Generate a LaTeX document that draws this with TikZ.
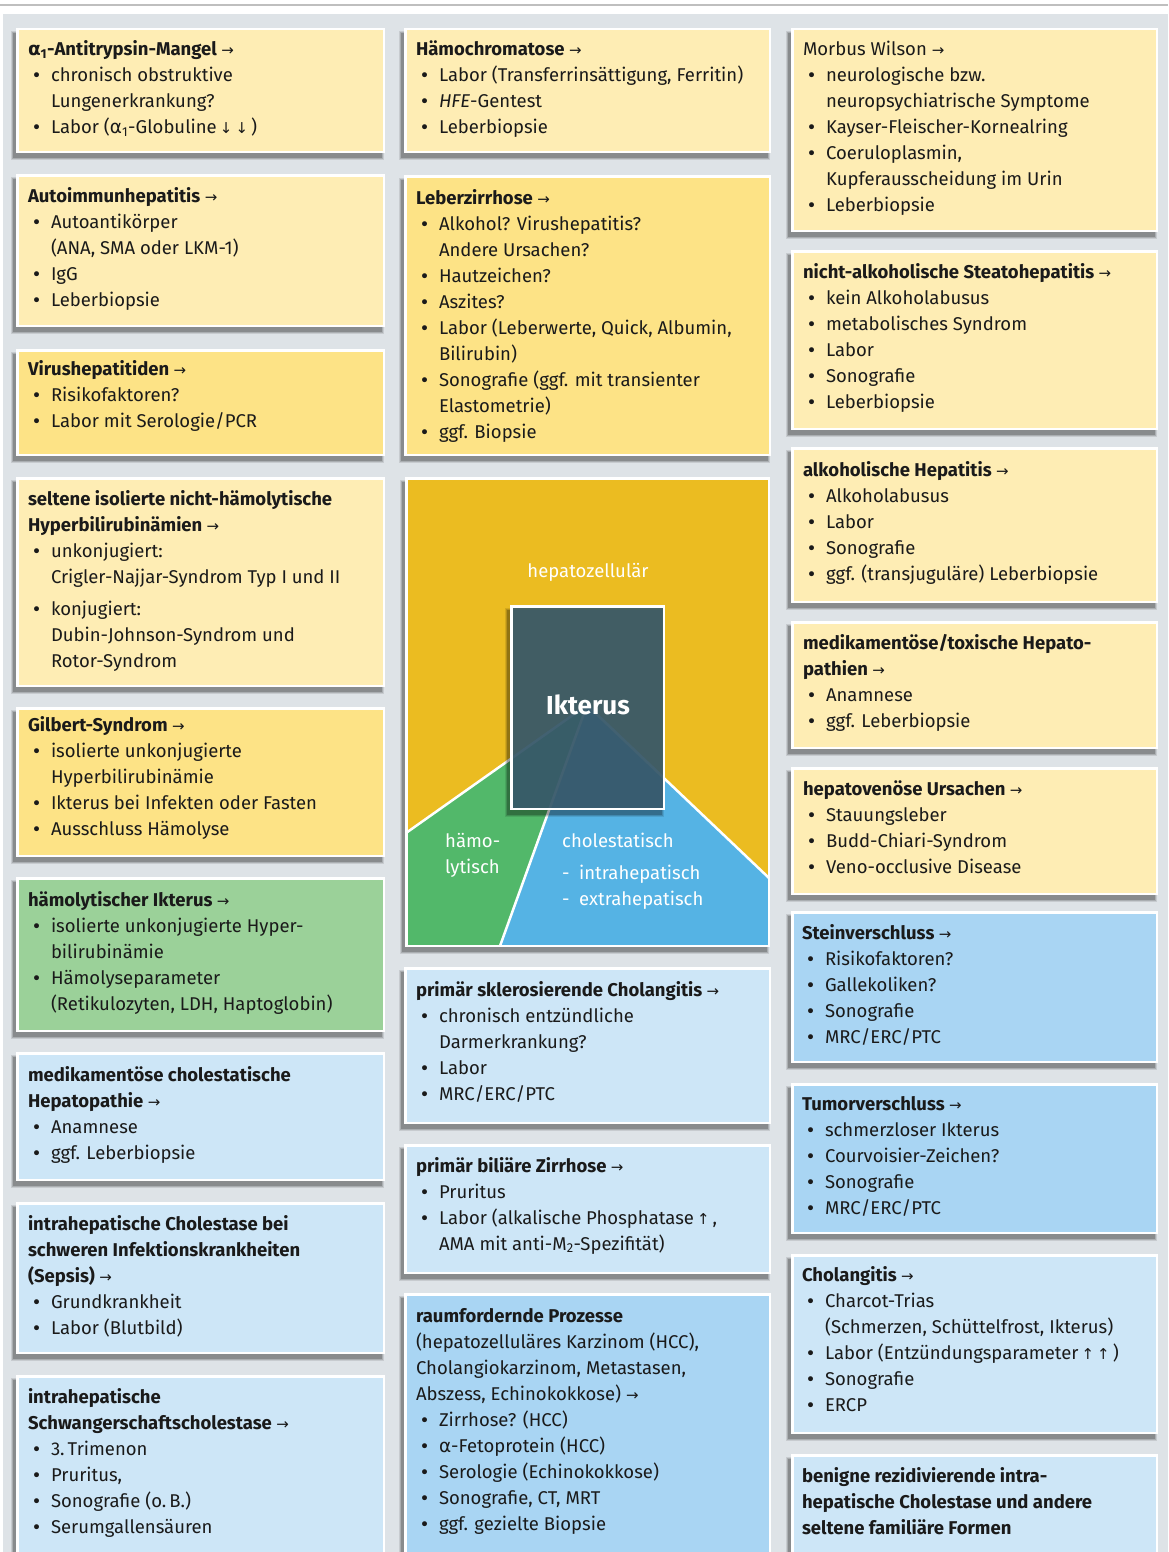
\documentclass[tikz,border=0pt]{standalone}
\usepackage{fontspec}
\setmainfont{Fira Sans}
\newfontfamily\symf{DejaVu Sans}
\definecolor{bgc}{HTML}{DEE3E7}
\definecolor{yl}{HTML}{FEEDB4}
\definecolor{yd}{HTML}{FDE386}
\definecolor{gr}{HTML}{9BD199}
\definecolor{bl}{HTML}{CDE6F7}
\definecolor{bm}{HTML}{A9D5F3}
\definecolor{cy}{HTML}{EBBC21}
\definecolor{cg}{HTML}{52B86A}
\definecolor{cb}{HTML}{55B3E4}
\definecolor{ck}{HTML}{395B6D}
\definecolor{ink}{HTML}{1A1A1A}
\newcommand\bs{\baselineskip=26pt\relax}
\newcommand\ttl[1]{\hbox{\bfseries #1}}
\newcommand\pln[1]{\hbox{#1}}
\newcommand\itm[1]{\hbox{\makebox[23pt][l]{\hspace{3.5pt}{\symf\fontsize{17}{17}\selectfont •}}#1}}
\newcommand\cnt[1]{\hbox{\hspace{23pt}#1}}
\newcommand\arr{\ {\symf\mdseries\fontsize{15}{15}\selectfont →}}
\newcommand\dnar{{\symf\fontsize{15}{15}\selectfont ↓}}
\newcommand\upar{{\symf\fontsize{15}{15}\selectfont ↑}}
\newcommand\alp{{\symf α}}
\newcommand\shd[4]{%
  \fill[black,opacity=0.10] (#1-5,#2+3) rectangle (#3-1,#4+7);
  \fill[black,opacity=0.14] (#1-4,#2+4) rectangle (#3-2,#4+6);
  \fill[black,opacity=0.20] (#1-3,#2+5) rectangle (#3-3,#4+5);}
\newcommand\cbox[6]{\shd{#2}{#3}{#4}{#5}
  \node[boxst, fill=#6, minimum width={(#4-#2-2.5)*1pt}, minimum height={(#5-#3-2.5)*1pt}] (#1) at ({(#2+#4)/2},{(#3+#5)/2}) {};}
\tikzset{
  boxst/.style={draw=white, line width=2.5pt, inner sep=0pt, outer sep=0pt, rectangle},
  txt/.style={anchor=base west, inner sep=0pt, outer sep=0pt, text=ink, font=\fontsize{18.5}{26}\selectfont},
  wtxt/.style={inner sep=0pt, text=white, font=\fontsize{18.5}{26}\selectfont}
}
\begin{document}
\begin{tikzpicture}[x=1pt,y=-1pt]
\useasboundingbox (0,0) rectangle (1168,1552);
\clip (0,0) rectangle (1168,1552);
\fill[white] (0,0) rectangle (1168,1552);
\draw[black!25, line width=1.2pt] (0,5) -- (1168,5);
\fill[bgc] (3,14) rectangle (1168,1552);

% ---------------- left column
\cbox{a1}{16}{28}{385}{153}{yl}
\node[txt] (ta1) at (28,56) {\vtop{\bs
 \ttl{\alp\textsubscript{1}-Antitrypsin-Mangel\arr}
 \itm{chronisch obstruktive}
 \cnt{Lungenerkrankung?}
 \itm{Labor (\alp\textsubscript{1}-Globuline\,\dnar\,\dnar\,)}}};

\cbox{a2}{16}{174}{385}{327}{yl}
\node[txt] (ta2) at (28,202) {\vtop{\bs
 \ttl{Autoimmunhepatitis\arr}
 \itm{Autoantikörper}
 \cnt{(ANA, SMA oder LKM-1)}
 \itm{IgG}
 \itm{Leberbiopsie}}};

\cbox{a3}{16}{349}{385}{456}{yd}
\node[txt] (ta3) at (28,375) {\vtop{\bs
 \ttl{Virushepatitiden\arr}
 \itm{Risikofaktoren?}
 \itm{Labor mit Serologie/PCR}}};

\cbox{a4}{16}{477}{385}{687}{yl}
\node[txt] (ta4) at (28,505) {\vtop{\bs
 \ttl{seltene isolierte nicht-hämolytische}
 \ttl{Hyperbilirubinämien\arr}
 \itm{unkonjugiert:}
 \cnt{Crigler-Najjar-Syndrom Typ I und II}
 \vskip6pt
 \itm{konjugiert:}
 \cnt{Dubin-Johnson-Syndrom und}
 \cnt{Rotor-Syndrom}}};

\cbox{a5}{16}{707}{385}{857}{yd}
\node[txt] (ta5) at (28,731) {\vtop{\bs
 \ttl{Gilbert-Syndrom\arr}
 \itm{isolierte unkonjugierte}
 \cnt{Hyperbilirubinämie}
 \itm{Ikterus bei Infekten oder Fasten}
 \itm{Ausschluss Hämolyse}}};

\cbox{a6}{16}{877}{385}{1032}{gr}
\node[txt] (ta6) at (28,906) {\vtop{\bs
 \ttl{hämolytischer Ikterus\arr}
 \itm{isolierte unkonjugierte Hyper-}
 \cnt{bilirubinämie}
 \itm{Hämolyseparameter}
 \cnt{(Retikulozyten, LDH, Haptoglobin)}}};

\cbox{a7}{16}{1052}{385}{1181}{bl}
\node[txt] (ta7) at (28,1081) {\vtop{\bs
 \ttl{medikamentöse cholestatische}
 \ttl{Hepatopathie\arr}
 \itm{Anamnese}
 \itm{ggf. Leberbiopsie}}};

\cbox{a8}{16}{1202}{385}{1354}{bl}
\node[txt] (ta8) at (28,1230) {\vtop{\bs
 \ttl{intrahepatische Cholestase bei}
 \ttl{schweren Infektionskrankheiten}
 \ttl{(Sepsis)\arr}
 \itm{Grundkrankheit}
 \itm{Labor (Blutbild)}}};

\cbox{a9}{16}{1375}{385}{1570}{bl}
\node[txt] (ta9) at (28,1403) {\vtop{\bs
 \ttl{intrahepatische}
 \ttl{Schwangerschaftscholestase\arr}
 \itm{3.\,Trimenon}
 \itm{Pruritus,}
 \itm{Sonografie (o.\,B.)}
 \itm{Serumgallensäuren}}};

% ---------------- middle column
\cbox{m1}{404}{28}{771}{153}{yl}
\node[txt] (tm1) at (416,56) {\vtop{\bs
 \ttl{Hämochromatose\arr}
 \itm{Labor (Transferrinsättigung, Ferritin)}
 \itm{\textit{HFE}-Gentest}
 \itm{Leberbiopsie}}};

\cbox{m2}{404}{175}{771}{456}{yd}
\node[txt] (tm2) at (416,204) {\vtop{\bs
 \ttl{Leberzirrhose\arr}
 \itm{Alkohol? Virushepatitis?}
 \cnt{Andere Ursachen?}
 \itm{Hautzeichen?}
 \itm{Aszites?}
 \itm{Labor (Leberwerte, Quick, Albumin,}
 \cnt{Bilirubin)}
 \itm{Sonografie (ggf. mit transienter}
 \cnt{Elastometrie)}
 \itm{ggf. Biopsie}}};

% center graphic
\shd{405}{477}{770}{947}
\node[boxst, fill=cy, minimum width=362.5pt, minimum height=467.5pt] (panel) at (587.5,712) {};
\fill[cg] (406,833) -- (587,705) -- (500,946) -- (406,946) -- cycle;
\fill[cb] (587,705) -- (769,878) -- (769,946) -- (500,946) -- cycle;
\draw[white, line width=2.5pt, line join=round] (406,833) -- (587,705) -- (769,878);
\draw[white, line width=2.5pt] (587,705) -- (500,946);
\draw[white, line width=2.5pt] (panel.north west) rectangle (panel.south east);
\node[wtxt, anchor=base] (hz) at (588,577) {hepatozellulär};
\shd{510}{605}{665}{810}
\node[boxst, fill=ck, fill opacity=0.9, minimum width=152.5pt, minimum height=202.5pt] (ikt) at (587.5,707.5) {};
\node[wtxt, anchor=base, font=\fontsize{26}{30}\selectfont\bfseries] (iktl) at (588,714) {Ikterus};
\node[wtxt, anchor=base west] (haem) at (445,847) {\vtop{\bs\pln{hämo-}\pln{lytisch}}};
\node[wtxt, anchor=base west] (chol) at (562,847) {\vtop{\bs\pln{cholestatisch}\vskip6pt
 \pln{\makebox[17pt][l]{-}intrahepatisch}\pln{\makebox[17pt][l]{-}extrahepatisch}}};

\cbox{m3}{404}{967}{771}{1124}{bl}
\node[txt] (tm3) at (416,996) {\vtop{\bs
 \ttl{primär sklerosierende Cholangitis\arr}
 \itm{chronisch entzündliche}
 \cnt{Darmerkrankung?}
 \itm{Labor}
 \itm{MRC/ERC/PTC}}};

\cbox{m4}{404}{1144}{771}{1274}{bl}
\node[txt] (tm4) at (416,1172) {\vtop{\bs
 \ttl{primär biliäre Zirrhose\arr}
 \itm{Pruritus}
 \itm{Labor (alkalische Phosphatase\,\upar\,,}
 \cnt{AMA mit anti-M\textsubscript{2}-Spezifität)}}};

\cbox{m5}{404}{1293}{771}{1570}{bm}
\node[txt] (tm5) at (416,1322) {\vtop{\bs
 \ttl{raumfordernde Prozesse}
 \pln{(hepatozelluläres Karzinom (HCC),}
 \pln{Cholangiokarzinom, Metastasen,}
 \pln{Abszess, Echinokokkose)\arr}
 \itm{Zirrhose? (HCC)}
 \itm{\alp-Fetoprotein (HCC)}
 \itm{Serologie (Echinokokkose)}
 \itm{Sonografie, CT, MRT}
 \itm{ggf. gezielte Biopsie}}};

% ---------------- right column
\cbox{r1}{791}{28}{1158}{232}{yl}
\node[txt] (tr1) at (803,56) {\vtop{\bs
 \pln{Morbus Wilson\arr}
 \itm{neurologische bzw.}
 \cnt{neuropsychiatrische Symptome}
 \itm{Kayser-Fleischer-Kornealring}
 \itm{Coeruloplasmin,}
 \cnt{Kupferausscheidung im Urin}
 \itm{Leberbiopsie}}};

\cbox{r2}{791}{250}{1158}{430}{yl}
\node[txt] (tr2) at (803,278) {\vtop{\bs
 \ttl{nicht-alkoholische Steatohepatitis\arr}
 \itm{kein Alkoholabusus}
 \itm{metabolisches Syndrom}
 \itm{Labor}
 \itm{Sonografie}
 \itm{Leberbiopsie}}};

\cbox{r3}{791}{447}{1158}{603}{yl}
\node[txt] (tr3) at (803,476) {\vtop{\bs
 \ttl{alkoholische Hepatitis\arr}
 \itm{Alkoholabusus}
 \itm{Labor}
 \itm{Sonografie}
 \itm{ggf. (transjuguläre) Leberbiopsie}}};

\cbox{r4}{791}{621}{1158}{749}{yl}
\node[txt] (tr4) at (803,649) {\vtop{\bs
 \ttl{medikamentöse/toxische Hepato-}
 \ttl{pathien\arr}
 \itm{Anamnese}
 \itm{ggf. Leberbiopsie}}};

\cbox{r5}{791}{767}{1158}{895}{yl}
\node[txt] (tr5) at (803,795) {\vtop{\bs
 \ttl{hepatovenöse Ursachen\arr}
 \itm{Stauungsleber}
 \itm{Budd-Chiari-Syndrom}
 \itm{Veno-occlusive Disease}}};

\cbox{r6}{791}{911}{1158}{1063}{bm}
\node[txt] (tr6) at (802,939) {\vtop{\bs
 \ttl{Steinverschluss\arr}
 \itm{Risikofaktoren?}
 \itm{Gallekoliken?}
 \itm{Sonografie}
 \itm{MRC/ERC/PTC}}};

\cbox{r7}{791}{1083}{1158}{1234}{bm}
\node[txt] (tr7) at (802,1110) {\vtop{\bs
 \ttl{Tumorverschluss\arr}
 \itm{schmerzloser Ikterus}
 \itm{Courvoisier-Zeichen?}
 \itm{Sonografie}
 \itm{MRC/ERC/PTC}}};

\cbox{r8}{791}{1254}{1158}{1434}{bl}
\node[txt] (tr8) at (802,1281) {\vtop{\bs
 \ttl{Cholangitis\arr}
 \itm{Charcot-Trias}
 \cnt{(Schmerzen, Schüttelfrost, Ikterus)}
 \itm{Labor (Entzündungsparameter\,\upar\,\upar\,)}
 \itm{Sonografie}
 \itm{ERCP}}};

\cbox{r9}{791}{1454}{1158}{1570}{bl}
\node[txt] (tr9) at (802,1482) {\vtop{\bs
 \ttl{benigne rezidivierende intra-}
 \ttl{hepatische Cholestase und andere}
 \ttl{seltene familiäre Formen}}};
\end{tikzpicture}
\end{document}
